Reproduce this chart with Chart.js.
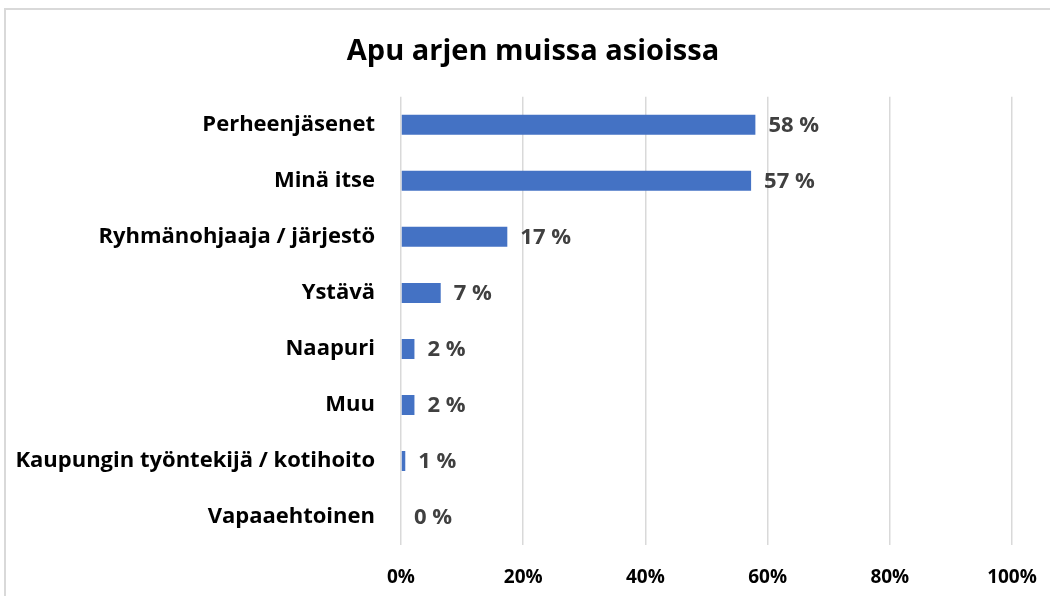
<!DOCTYPE html>
<html>
<head>
<meta charset="utf-8">
<script src="https://cdn.jsdelivr.net/npm/chart.js@4"></script>
<style>
html,body{margin:0;padding:0;background:#fff;overflow:hidden;width:1050px;height:596px;}
#frame{position:absolute;left:4px;top:8px;width:1058px;height:600px;border-left:2px solid #d9d9d9;border-top:2px solid #d9d9d9;box-sizing:border-box;}
#wrap{position:absolute;left:4px;top:8px;width:1058px;height:588px;}
</style>
</head>
<body>
<div id="frame"></div>
<div id="wrap"><canvas id="c" width="1058" height="588"></canvas></div>
<script>
const titleText = "Apu arjen muissa asioissa";
const categories = ["Perheenjäsenet","Minä itse","Ryhmänohjaaja / järjestö","Ystävä","Naapuri","Muu","Kaupungin työntekijä / kotihoito","Vapaaehtoinen"];
const values = [58.0, 57.3, 17.4, 6.5, 2.2, 2.2, 0.7, 0];
const valueLabels = ["58 %","57 %","17 %","7 %","2 %","2 %","1 %","0 %"];
const xTicks = [0,20,40,60,80,100];

const FONT = "'Open Sans', sans-serif";

const dataLabelPlugin = {
  id: 'dataLabels',
  afterLayout(chart) {
    // center the title over the whole frame rather than the padded box
    if (chart.titleBlock) {
      chart.titleBlock.left = 0;
      chart.titleBlock.right = chart.width;
    }
  },
  afterDatasetsDraw(chart) {
    const ctx = chart.ctx;
    const meta = chart.getDatasetMeta(0);
    ctx.save();
    ctx.font = "bold 22px " + FONT;
    ctx.fillStyle = "#404040";
    ctx.textAlign = "left";
    ctx.textBaseline = "middle";
    meta.data.forEach((bar, i) => {
      ctx.fillText(valueLabels[i], bar.x + 13, bar.y + 1);
    });
    ctx.restore();
  }
};

new Chart(document.getElementById('c'), {
  type: 'bar',
  data: {
    labels: categories,
    datasets: [{
      data: values,
      backgroundColor: '#4472c4',
      borderWidth: 0,
      barPercentage: 0.357,
      categoryPercentage: 1.0
    }]
  },
  options: {
    indexAxis: 'y',
    responsive: false,
    animation: false,
    devicePixelRatio: 1,
    layout: { padding: { left: 0, right: 50, top: 0, bottom: 0 } },
    plugins: {
      legend: { display: false },
      tooltip: { enabled: false },
      title: {
        display: true,
        text: titleText,
        color: '#000',
        font: { family: FONT, size: 29, weight: 'bold' },
        padding: { top: 26, bottom: 28 }
      }
    },
    scales: {
      x: {
        min: 0, max: 100,
        afterBuildTicks(scale) { scale.ticks = xTicks.map(v => ({ value: v })); },
        afterFit(scale) { scale.height = 51; },
        ticks: {
          callback: v => v + '%',
          color: '#000',
          font: { family: FONT, size: 19, weight: 'bold' },
          padding: 21,
          maxRotation: 0
        },
        grid: { color: '#d9d9d9', lineWidth: 1.5, drawTicks: false },
        border: { display: false }
      },
      y: {
        afterFit(scale) { scale.width = 397; },
        ticks: {
          color: '#000',
          font: { family: FONT, size: 22, weight: 'bold' },
          padding: 26
        },
        grid: { display: false, drawTicks: false },
        border: { display: false }
      }
    }
  },
  plugins: [dataLabelPlugin]
});
</script>
</body>
</html>
